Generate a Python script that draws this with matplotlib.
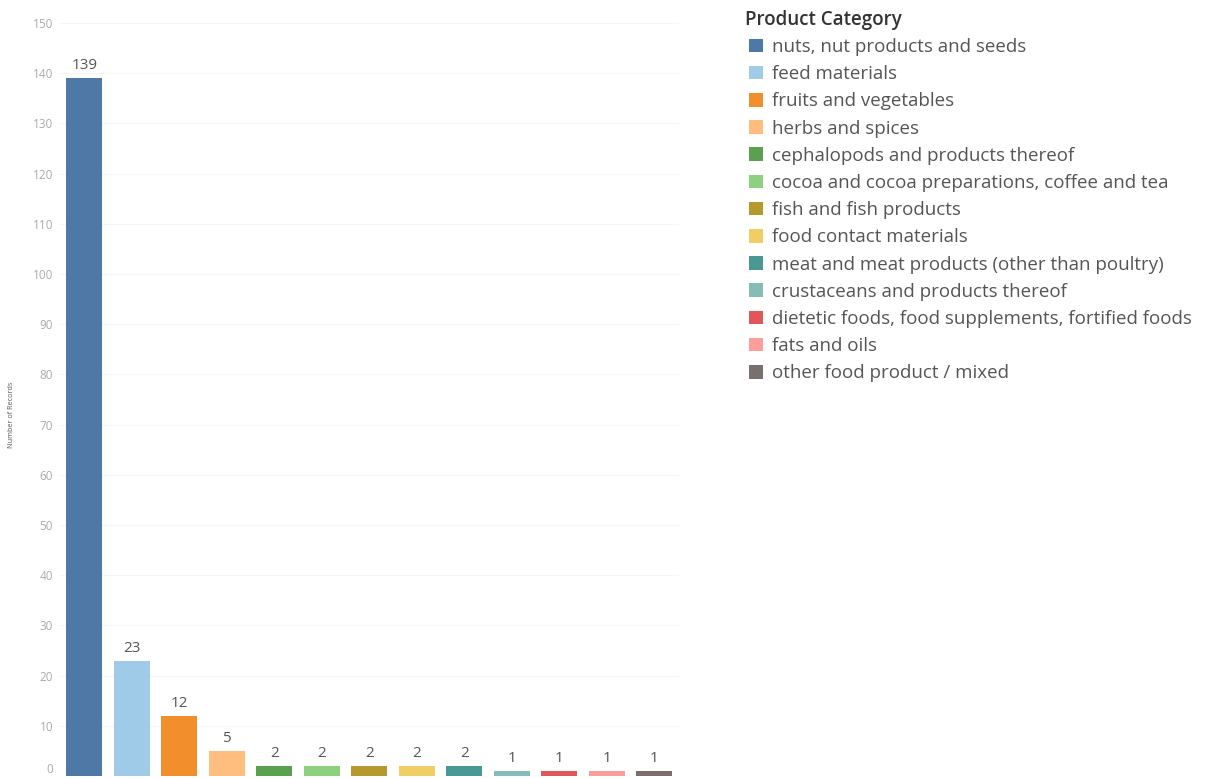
import numpy as np
import matplotlib.pyplot as plt

# product categories and number of records
categories = [
    'nuts, nut products and seeds',
    'feed materials',
    'fruits and vegetables',
    'herbs and spices',
    'cephalopods and products thereof',
    'cocoa and cocoa preparations, coffee and tea',
    'fish and fish products',
    'food contact materials',
    'meat and meat products (other than poultry)',
    'crustaceans and products thereof',
    'dietetic foods, food supplements, fortified foods',
    'fats and oils',
    'other food product / mixed',
]
records = [139, 23, 12, 5, 2, 2, 2, 2, 2, 1, 1, 1, 1]
colors = ['#4E79A7', '#A0CBE8', '#F28E2B', '#FFBE7D', '#59A14F', '#8CD17D',
          '#B6992D', '#F1CE63', '#499894', '#86BCB6', '#E15759', '#FF9D9A',
          '#79706E']
y_ticks = np.arange(0, 151, 10)

plt.rcParams['font.family'] = ['Open Sans', 'DejaVu Sans']

W, H = 1213, 778
fig = plt.figure(figsize=(W / 100, H / 100), dpi=100)
# axes: left 60px, right 679px, bottom 776px, top 13px
ax = fig.add_axes([60 / W, 2 / H, 619 / W, 763 / H])

x = np.arange(len(records))
bars = ax.bar(x, records, width=0.76, color=colors, zorder=2)

# value labels above each bar
for xi, val in zip(x, records):
    ax.text(xi, val + 1.0, str(val), ha='center', va='bottom',
            fontsize=11, color='#555555')

ax.set_xlim(-0.51, len(records) - 0.48)
ax.set_ylim(0, 152)
ax.set_yticks(y_ticks)
ax.set_xticks([])
ax.tick_params(axis='y', length=0, labelsize=8.5, labelcolor='#aaaaaa', pad=5)
ax.yaxis.get_major_ticks()[0].label1.set_verticalalignment('bottom')
ax.grid(axis='y', color='#f5f5f5', linewidth=0.8, zorder=0)
for s in ax.spines.values():
    s.set_visible(False)
ax.set_ylabel('Number of Records', fontsize=5.2, color='#555555')
ax.yaxis.set_label_coords(-45 / 619, 0.474)

# legend title as separate text, entries below it
fig.text(745 / W, 1 - 20 / H, 'Product Category', ha='left', va='center',
         fontsize=13.5, fontweight='semibold', color='#333333')
leg = fig.legend(bars, categories, loc='upper left',
                 bbox_to_anchor=(749 / W, 1 - 38 / H),
                 frameon=False, fontsize=13.5,
                 handlelength=0.74, handleheight=0.74, handletextpad=0.48,
                 labelspacing=0.49, borderaxespad=0, borderpad=0)
for t in leg.get_texts():
    t.set_color('#555555')

fig.savefig('out.png', dpi=100)
